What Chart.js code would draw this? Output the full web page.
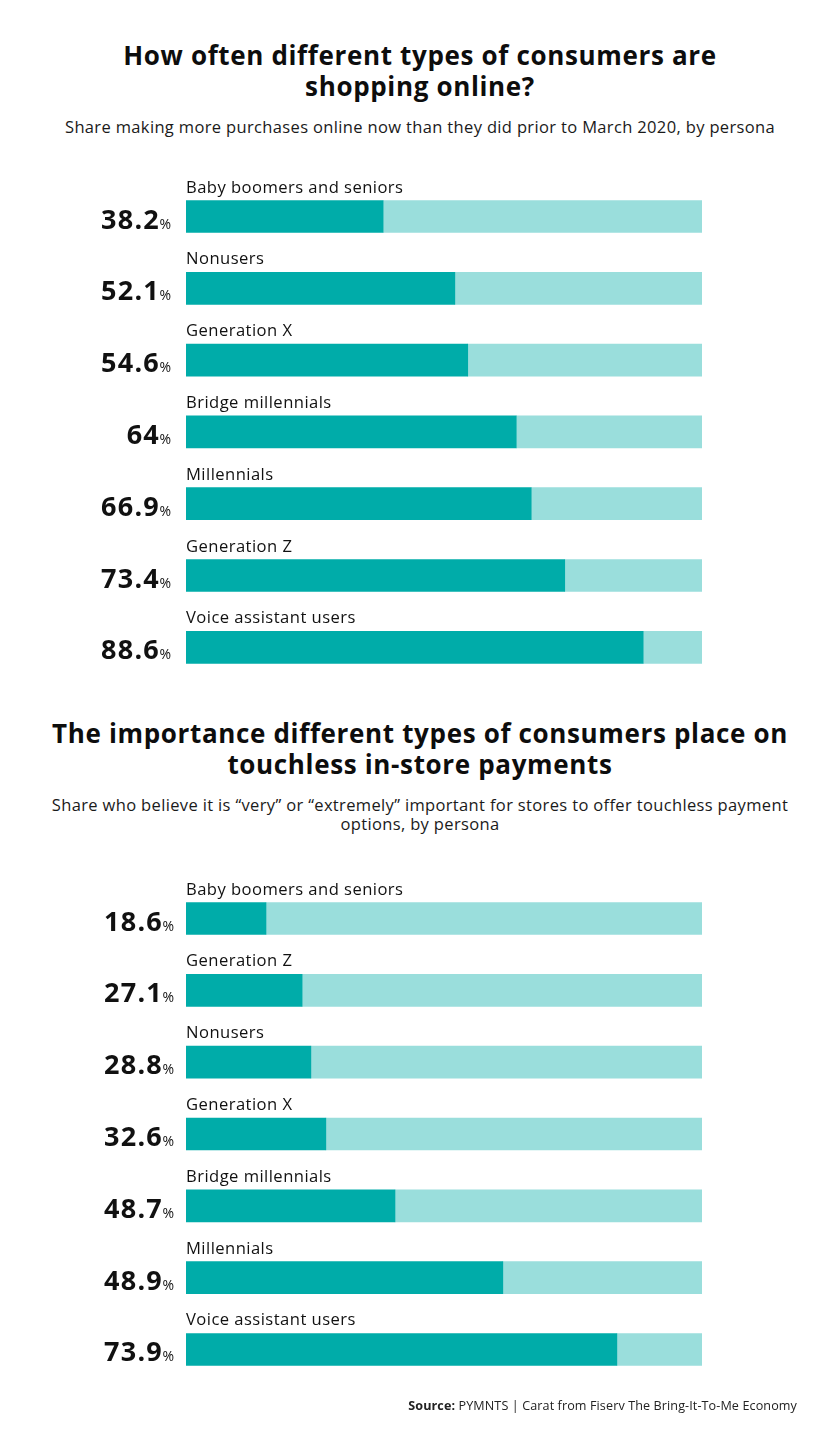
<!DOCTYPE html>
<html>
<head>
<meta charset="utf-8">
<script src="https://cdn.jsdelivr.net/npm/chart.js@4/dist/chart.umd.min.js"></script>
<style>
  html, body { margin: 0; padding: 0; background: #fff; }
  body { width: 840px; height: 1441px; position: relative; overflow: hidden; font-family: "Open Sans", "Noto Sans", sans-serif; color: #111; }
  .title { position: absolute; left: 0; width: 840px; text-align: center; font-weight: 700; font-size: 26px; line-height: 31px; letter-spacing: 0.65px; color: #0d0d0d; }
  .sub { position: absolute; left: 0; width: 840px; text-align: center; font-size: 16.5px; line-height: 19px; letter-spacing: 0.35px; color: #1a1a1a; }
  canvas { position: absolute; left: 0; }
  #src { position: absolute; right: 43px; top: 1397px; font-size: 12.6px; color: #222; letter-spacing: 0.1px; }
</style>
</head>
<body>
<div class="title" id="t1" style="top:40px;">How often different types of consumers are<br>shopping online?</div>
<div class="sub" id="s1" style="top:117px;">Share making more purchases online now than they did prior to March 2020, by persona</div>
<div class="title" id="t2" style="top:718px;">The importance different types of consumers place on<br>touchless in-store payments</div>
<div class="sub" id="s2" style="top:795px;">Share who believe it is “very” or “extremely” important for stores to offer touchless payment<br>options, by persona</div>
<div style="position:absolute;left:0;top:0;width:840px;height:720px;"><canvas id="c1"></canvas></div>
<div style="position:absolute;left:0;top:720px;width:840px;height:721px;"><canvas id="c2"></canvas></div>
<div id="src"><b>Source:</b> PYMNTS | Carat from Fiserv The Bring-It-To-Me Economy</div>
<script>
// ---- Data ----
const onlineCategories = ['Baby boomers and seniors', 'Nonusers', 'Generation X', 'Bridge millennials', 'Millennials', 'Generation Z', 'Voice assistant users'];
const onlineValues = [38.2, 52.1, 54.6, 64, 66.9, 73.4, 88.6];

const touchlessCategories = ['Baby boomers and seniors', 'Generation Z', 'Nonusers', 'Generation X', 'Bridge millennials', 'Millennials', 'Voice assistant users'];
const touchlessValues = [18.6, 27.1, 28.8, 32.6, 48.7, 48.9, 73.9];
// Bar lengths as they are actually drawn in the reference (they do not follow the printed labels)
const touchlessBarLengths = [15.5, 22.5, 24.2, 27.1, 40.5, 61.4, 83.5];

const scaleMax = 100;

const DARK = '#00aca9';
const LIGHT = '#9adedc';

const labelPlugin = {
  id: 'personaLabels',
  afterDatasetsDraw(chart, args, opts) {
    const ctx = chart.ctx;
    const meta = chart.getDatasetMeta(0);
    const cats = chart.data.labels;
    const vals = opts.values;
    ctx.save();
    meta.data.forEach((bar, i) => {
      const top = bar.y - bar.height / 2;
      const bottom = bar.y + bar.height / 2;
      // category label above the bar
      ctx.font = '400 16.6px "Open Sans", sans-serif';
      ctx.letterSpacing = '0.45px';
      ctx.fillStyle = '#111';
      ctx.textAlign = 'left';
      ctx.textBaseline = 'alphabetic';
      ctx.fillText(cats[i], chart.chartArea.left, top - 8);
      // value label left of the bar
      const right = opts.valueRight;
      ctx.font = '400 14px "Open Sans", sans-serif';
      ctx.letterSpacing = '0px';
      const pw = ctx.measureText('%').width;
      ctx.textAlign = 'right';
      ctx.fillText('%', right, bottom - 4);
      ctx.font = '700 27px "Open Sans", sans-serif';
      ctx.letterSpacing = '1.2px';
      ctx.fillText(String(vals[i]), right - pw + 0.5, bottom - 4);
    });
    ctx.restore();
  }
};

function makeChart(id, cats, barVals, labelVals, pad, valueRight) {
  return new Chart(document.getElementById(id), {
    type: 'bar',
    data: {
      labels: cats,
      datasets: [
        { data: barVals, backgroundColor: DARK, barThickness: 32, stack: 's', borderSkipped: false },
        { data: barVals.map(v => scaleMax - v), backgroundColor: LIGHT, barThickness: 32, stack: 's' }
      ]
    },
    options: {
      indexAxis: 'y',
      responsive: true,
      maintainAspectRatio: false,
      animation: false,
      layout: { padding: pad },
      scales: {
        x: { stacked: true, min: 0, max: scaleMax, display: false },
        y: { stacked: true, display: false, grid: { display: false } }
      },
      plugins: {
        legend: { display: false },
        tooltip: { enabled: false },
        personaLabels: { values: labelVals, valueRight: valueRight }
      }
    },
    plugins: [labelPlugin]
  });
}

makeChart('c1', onlineCategories, onlineValues, onlineValues,
  { left: 186, right: 138, top: 180.6, bottom: 720 - 683.2 }, 171);
makeChart('c2', touchlessCategories, touchlessBarLengths, touchlessValues,
  { left: 186, right: 138, top: 882.6 - 720, bottom: 1441 - 1385.4 }, 174);
</script>
</body>
</html>
